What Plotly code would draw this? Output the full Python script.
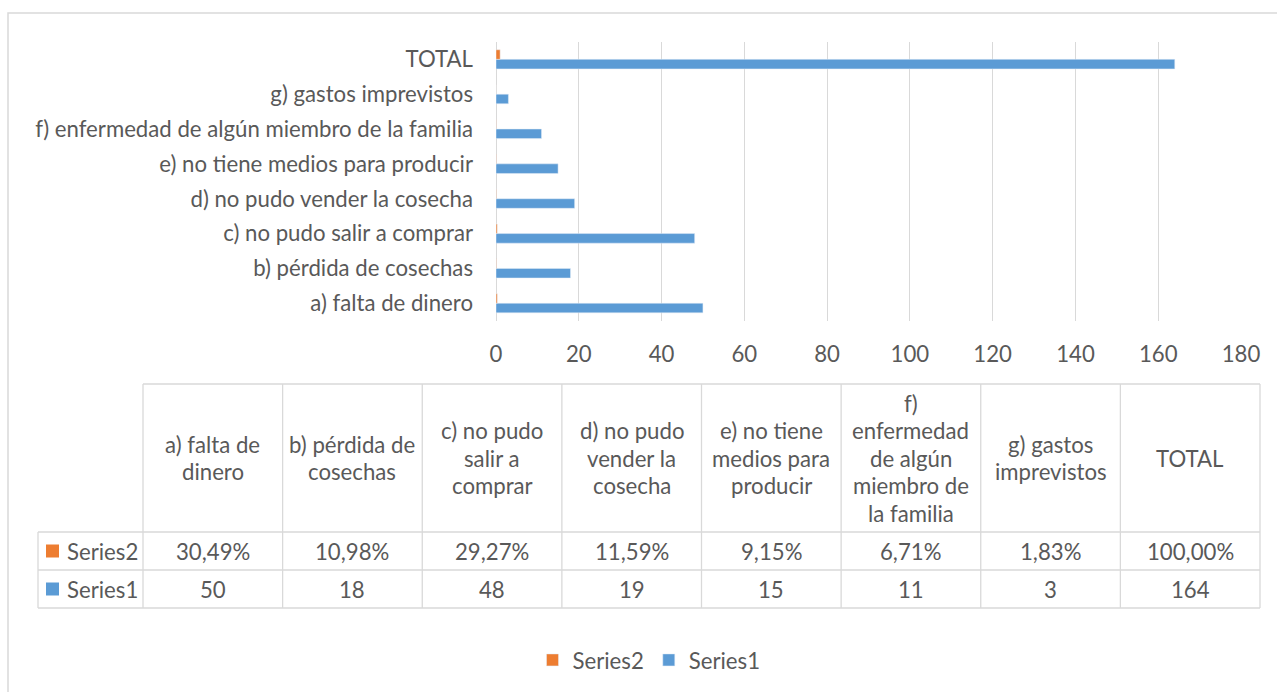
import plotly.graph_objects as go

# ---- data ----
categories = [
    "a) falta de dinero",
    "b) pérdida de cosechas",
    "c) no pudo salir a comprar",
    "d) no pudo vender la cosecha",
    "e) no tiene medios para producir",
    "f) enfermedad de algún miembro de la familia",
    "g) gastos imprevistos",
    "TOTAL",
]
series1 = [50, 18, 48, 19, 15, 11, 3, 164]
series2 = [0.3049, 0.1098, 0.2927, 0.1159, 0.0915, 0.0671, 0.0183, 1.0]
series_names = ["Series2", "Series1"]

# column headings of the data table, wrapped as in the table cells
header_lines = [
    ["a) falta de", "dinero"],
    ["b) pérdida de", "cosechas"],
    ["c) no pudo", "salir a", "comprar"],
    ["d) no pudo", "vender la", "cosecha"],
    ["e) no tiene", "medios para", "producir"],
    ["f)", "enfermedad", "de algún", "miembro de", "la familia"],
    ["g) gastos", "imprevistos"],
    ["TOTAL"],
]
x_ticks = [0, 20, 40, 60, 80, 100, 120, 140, 160, 180]

# ---- styling ----
W, H = 1277, 692
BLUE = "#5B9BD5"
ORANGE = "#ED7D31"
TEXT = "#595959"
GRID = "#D9D9D9"
FONT = "Lato"
FS = 22.2


def fx(px):
    return px / W


def fy(py):
    return 1 - py / H


fig = go.Figure()
fig.add_trace(go.Bar(y=categories, x=series1, orientation="h", name="Series1",
                     marker=dict(color=BLUE)))
fig.add_trace(go.Bar(y=categories, x=series2, orientation="h", name="Series2",
                     marker=dict(color=ORANGE)))

shapes = []
annotations = []

# outer chart frame
shapes.append(dict(type="rect", xref="paper", yref="paper",
                   x0=fx(8), x1=fx(1300), y0=fy(13), y1=fy(720),
                   line=dict(color=GRID, width=1.5), fillcolor="rgba(0,0,0,0)", layer="below"))

# data table grid
col_left = 143
col_w = (1260 - 143) / len(categories)
tbl_left = 38
y_head_top, y_head_bot, y_row_mid, y_row_bot = 384, 532, 570, 608
line_style = dict(color=GRID, width=1.3)


def hline(x0, x1, y):
    shapes.append(dict(type="line", xref="paper", yref="paper",
                       x0=fx(x0), x1=fx(x1), y0=fy(y), y1=fy(y), line=line_style))


def vline(x, y0, y1):
    shapes.append(dict(type="line", xref="paper", yref="paper",
                       x0=fx(x), x1=fx(x), y0=fy(y0), y1=fy(y1), line=line_style))


hline(col_left, col_left + col_w * len(categories), y_head_top)
for y in (y_head_bot, y_row_mid, y_row_bot):
    hline(tbl_left, col_left + col_w * len(categories), y)
vline(tbl_left, y_head_bot, y_row_bot)
for i in range(len(categories) + 1):
    vline(col_left + col_w * i, y_head_top, y_row_bot)


def text(x, y, s, anchor="center"):
    annotations.append(dict(xref="paper", yref="paper", x=fx(x), y=fy(y), text=s,
                            showarrow=False, xanchor=anchor, yanchor="middle",
                            font=dict(family=FONT, size=FS, color=TEXT)))


# headings
line_gap = 27.5
head_mid = (y_head_top + y_head_bot) / 2
for i, lines in enumerate(header_lines):
    cx = col_left + col_w * (i + 0.5)
    n = len(lines)
    for k, s in enumerate(lines):
        text(cx, head_mid + (k - (n - 1) / 2) * line_gap, s)

# value rows
row2_mid = (y_head_bot + y_row_mid) / 2
row1_mid = (y_row_mid + y_row_bot) / 2
for i in range(len(categories)):
    cx = col_left + col_w * (i + 0.5)
    pct = f"{series2[i] * 100:.2f}%".replace(".", ",")
    text(cx, row2_mid, pct)
    text(cx, row1_mid, str(series1[i]))

# series keys in the table
for name, color, ym in ((series_names[0], ORANGE, row2_mid), (series_names[1], BLUE, row1_mid)):
    shapes.append(dict(type="rect", xref="paper", yref="paper",
                       x0=fx(46), x1=fx(59), y0=fy(ym - 6.5), y1=fy(ym + 6.5),
                       line=dict(width=0), fillcolor=color))
    text(65, ym, name, anchor="left")

fig.update_layout(
    width=W, height=H,
    margin=dict(l=0, r=0, t=0, b=0, autoexpand=False),
    paper_bgcolor="white", plot_bgcolor="white",
    barmode="group", bargap=0.45, bargroupgap=0,
    font=dict(family=FONT, size=FS, color=TEXT),
    showlegend=True,
    legend=dict(orientation="h", x=fx(649), xanchor="center", y=fy(660), yanchor="middle",
                traceorder="reversed", font=dict(family=FONT, size=FS, color=TEXT),
                itemclick=False, itemdoubleclick=False),
    xaxis=dict(domain=[fx(496), fx(1241)], range=[0, 180], tickvals=x_ticks,
               showgrid=True, gridcolor=GRID, gridwidth=1.3,
               zeroline=True, zerolinecolor=GRID, zerolinewidth=1.3,
               showline=False, ticks="", ticklabelstandoff=18, automargin=False,
               tickfont=dict(family=FONT, size=FS, color=TEXT), fixedrange=True),
    yaxis=dict(domain=[fy(320.7), fy(41.9)], type="category",
               categoryorder="array", categoryarray=categories,
               showgrid=False, zeroline=False, showline=False, ticks="",
               ticklabelstandoff=22, automargin=False,
               tickfont=dict(family=FONT, size=FS, color=TEXT), fixedrange=True),
    shapes=shapes,
    annotations=annotations,
)

fig.write_html("out.html", config={"displayModeBar": False})
